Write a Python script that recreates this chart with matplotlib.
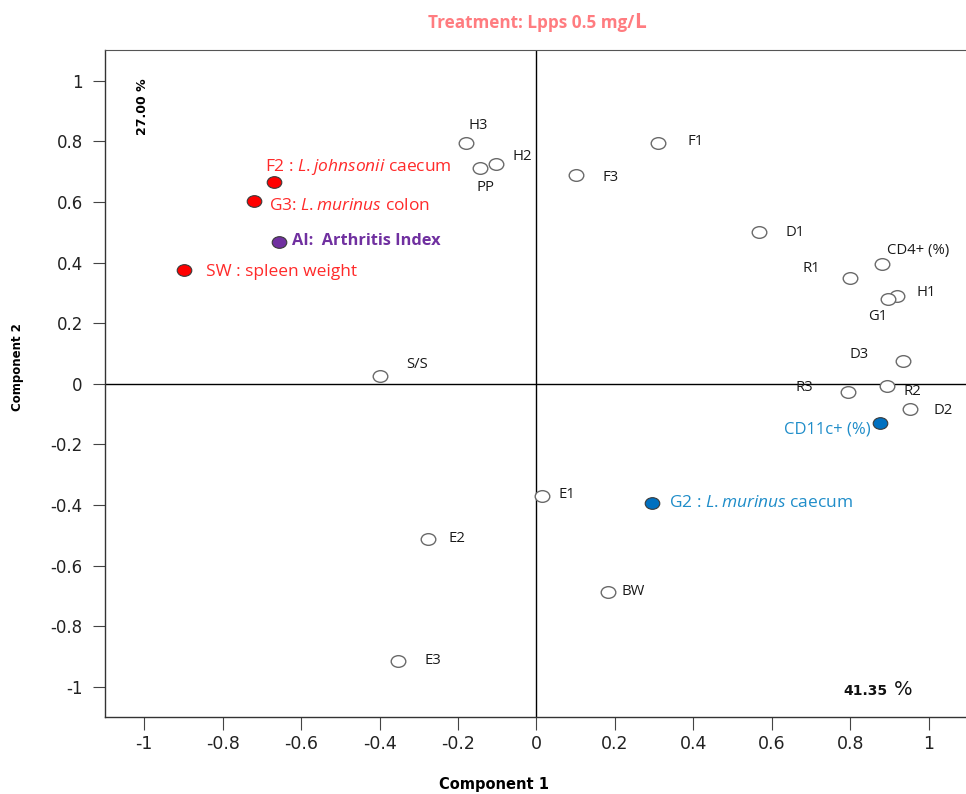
import numpy as np
import matplotlib
matplotlib.use("Agg")
import matplotlib.pyplot as plt
from matplotlib.path import Path

plt.rcParams['font.family'] = ['Open Sans', 'DejaVu Sans']
plt.rcParams['mathtext.fontset'] = 'custom'
plt.rcParams['mathtext.rm'] = 'Open Sans'
plt.rcParams['mathtext.it'] = 'Open Sans:italic'

# ---- data: PCA loadings (component 1, component 2) ----
names = ["H3", "H2", "PP", "F1", "F3", "F2", "G3", "AI", "SW", "D1",
         "CD4+", "R1", "H1", "G1", "D3", "R2", "R3", "D2", "CD11c+",
         "S/S", "E1", "G2", "E2", "BW", "E3"]
comp1 = [-0.179, -0.103, -0.144, 0.309, 0.100, -0.670, -0.720, -0.657, -0.898, 0.568,
         0.881, 0.799, 0.919, 0.896, 0.934, 0.893, 0.794, 0.951, 0.875,
         -0.400, 0.014, 0.294, -0.276, 0.182, -0.352]
comp2 = [0.795, 0.726, 0.713, 0.795, 0.690, 0.667, 0.604, 0.469, 0.376, 0.502,
         0.396, 0.350, 0.290, 0.281, 0.076, -0.007, -0.026, -0.083, -0.129,
         0.026, -0.370, -0.393, -0.512, -0.686, -0.914]
labels = {
    "F2": "F2 : $\\mathit{L.johnsonii}$ caecum",
    "G3": "G3: $\\mathit{L.murinus}$ colon",
    "AI": "AI:  Arthritis Index",
    "SW": "SW : spleen weight",
    "CD4+": "CD4+ (%)",
    "CD11c+": "CD11c+ (%)",
    "G2": "G2 : $\\mathit{L.murinus}$ caecum",
}
groups = {"F2": "red", "G3": "red", "SW": "red", "AI": "purple",
          "G2": "blue", "CD11c+": "blue"}

ticks = [-1, -0.8, -0.6, -0.4, -0.2, 0, 0.2, 0.4, 0.6, 0.8, 1]
tick_labels = ["-1", "-0.8", "-0.6", "-0.4", "-0.2", "0", "0.2", "0.4", "0.6", "0.8", "1"]
var1 = "41.35"
var2 = "27.00"

# ---- styles ----
fill = {"red": "#ff0000", "purple": "#7030a0", "blue": "#0070c0"}
txtcol = {"red": "#ff2a2a", "purple": "#7030a0", "blue": "#1f8dc9"}
txtsize = {"F2": 12.5, "G3": 12.5, "SW": 12.5, "AI": 11.8, "G2": 12.5, "CD11c+": 12}
# label offsets in pixels (dx, dy) and alignment
offs = {"H3": (12, 17, "center"), "H2": (16, 7, "left"), "PP": (6, -20, "center"),
        "F1": (30, 1, "left"), "F3": (27, -3, "left"), "F2": (-9, 15, "left"),
        "G3": (15, -5, "left"), "AI": (13, 1, "left"), "SW": (22, -2, "left"),
        "D1": (26, -1, "left"), "CD4+": (5, 13, "left"), "R1": (-30, 9, "right"),
        "H1": (20, 3, "left"), "G1": (-10, -18, "center"), "D3": (-34, 6, "right"),
        "R2": (17, -6, "left"), "R3": (-35, 4, "right"), "D2": (24, -2, "left"),
        "CD11c+": (-9, -7, "right"), "S/S": (27, 11, "left"), "E1": (17, 1, "left"),
        "G2": (17, 0, "left"), "E2": (20, 0, "left"), "BW": (14, 0, "left"),
        "E3": (26, 0, "left")}

# slightly flattened circle marker
circ = Path.unit_circle()
ellipse = Path(circ.vertices * np.array([1.0, 0.8]), circ.codes)

fig = plt.figure(figsize=(9.66, 7.94), dpi=100)
ax = fig.add_axes([105 / 966, 1 - 717 / 794, 861 / 966, 667 / 794])

ax.axhline(0, color="black", lw=1.0, zorder=1)
ax.axvline(0, color="black", lw=1.0, zorder=1)

for n, x, y in zip(names, comp1, comp2):
    g = groups.get(n)
    if g:
        ax.plot(x, y, marker=ellipse, ms=10.5, mfc=fill[g], mec="#3a3a3a", mew=0.8, zorder=3)
    else:
        ax.plot(x, y, marker=ellipse, ms=10.5, mfc="white", mec="#6a6a6a", mew=1.0, zorder=3)
    dx, dy, ha = offs[n]
    ax.annotate(labels.get(n, n), (x, y), xytext=(dx, dy), textcoords="offset pixels",
                ha=ha, va="center", fontsize=txtsize.get(n, 10.7),
                color=txtcol[g] if g else "#1a1a1a",
                fontweight="bold" if n == "AI" else "normal", zorder=4)

ax.set_xlim(-1.1, 1.095)
ax.set_ylim(-1.1, 1.102)
ax.set_xticks(ticks)
ax.set_xticklabels(tick_labels, family="DejaVu Sans", fontsize=12.5, color="#222222")
ax.set_yticks(ticks)
ax.set_yticklabels(tick_labels, family="DejaVu Sans", fontsize=12, color="#222222")
ax.tick_params(axis="both", direction="out", length=9, width=0.8, color="#444444")
ax.tick_params(axis="y", pad=7)
ax.tick_params(axis="x", pad=4)
ax.spines["right"].set_visible(False)
ax.spines["top"].set_color("#555555")
for s in ["left", "bottom"]:
    ax.spines[s].set_color("#333333")
    ax.spines[s].set_linewidth(1.0)

# title
fig.text(634 / 966, 1 - 28 / 794, "Treatment: Lpps 0.5 mg/", ha="right", va="baseline",
         fontsize=12.3, fontweight="bold", color="#ff7c80")
fig.text(634 / 966, 1 - 28 / 794, "L", ha="left", va="baseline",
         fontsize=15, fontweight="bold", color="#ff7c80")

# explained variance
fig.text(143 / 966, 1 - 107 / 794, var2 + " %", rotation=90, ha="center", va="center",
         family="DejaVu Sans", fontsize=9, fontweight="bold")
fig.text(888 / 966, 1 - 695 / 794, var1, ha="right", va="baseline",
         family="DejaVu Sans", fontsize=10, fontweight="bold", color="#111111")
fig.text(894 / 966, 1 - 695 / 794, "%", ha="left", va="baseline",
         family="DejaVu Sans", fontsize=14, color="#111111")

fig.text(494 / 966, 1 - 784 / 794, "Component 1", ha="center", va="center",
         family="DejaVu Sans", fontsize=10.5, fontweight="bold")
fig.text(18 / 966, 1 - 367 / 794, "Component 2", rotation=90, ha="center", va="center",
         family="DejaVu Sans", fontsize=8.5, fontweight="bold")

fig.savefig("out.png", dpi=100)
